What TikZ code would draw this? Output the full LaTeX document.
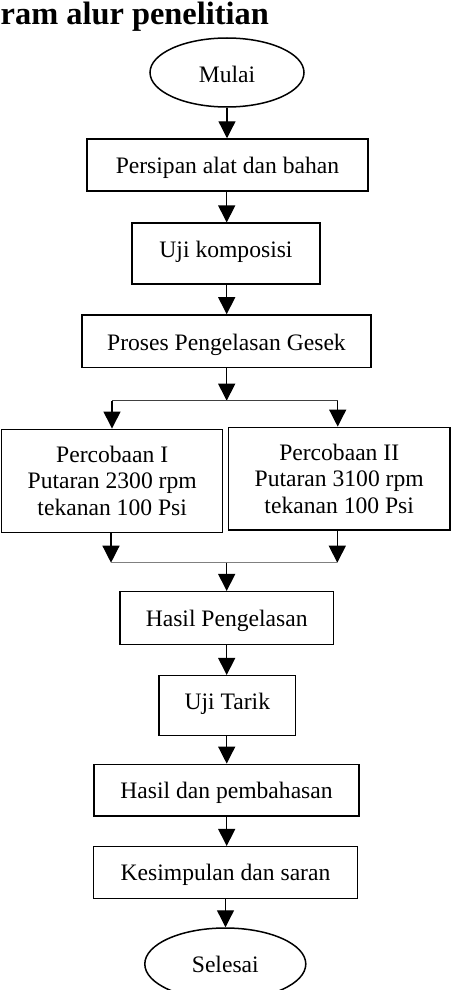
\documentclass[tikz,border=0pt]{standalone}
\usepackage{fontspec}
\setmainfont{Liberation Serif}
\usetikzlibrary{shapes.geometric,arrows.meta}
\begin{document}
\begin{tikzpicture}[x=1pt,y=-1pt,
  txt/.style={font=\fontsize{23.6}{26.7}\selectfont, inner sep=0pt},
  box/.style 2 args={txt, draw, line width=1.5pt, rectangle, minimum width=#1, minimum height=#2},
  oval/.style 2 args={txt, draw, line width=1.5pt, ellipse, minimum width=#1, minimum height=#2},
  arr/.style={line width=1.3pt, -{Triangle[length=17pt,width=17pt]}},
  joinline/.style={line width=1.3pt}
]
\useasboundingbox (0,0) rectangle (455,990);

\node[font=\fontsize{32.4}{36}\selectfont\bfseries, anchor=base west, inner sep=0pt] (title) at (0.5,24.5) {ram alur penelitian};

\node[oval={154pt}{69pt}, text height=19.8pt, text depth=0.2pt] (mulai) at (227,72.5) {Mulai};
\node[box={281pt}{52pt}, text height=18.3pt, text depth=1.7pt] (persiapan) at (227.5,165) {Persipan alat dan bahan};
\node[box={188pt}{61pt}, text height=13.6pt, text depth=6.4pt] (uji) at (226,253.7) {Uji komposisi};
\node[box={289pt}{52.7pt}, text height=18.7pt, text depth=1.3pt] (proses) at (226.5,341.3) {Proses Pengelasan Gesek};

\node[box={221pt}{103pt}, align=center, text depth=0pt] (p1) at (112.2,480.8) {Percobaan I\\Putaran 2300 rpm\\tekanan 100 Psi};
\node[box={221.7pt}{102.7pt}, align=center, text depth=0pt] (p2) at (339.2,478.7) {Percobaan II\\Putaran 3100 rpm\\tekanan 100 Psi};

\node[box={213.3pt}{52.6pt}, text height=18.7pt, text depth=1.3pt] (hasil) at (226.7,618) {Hasil Pengelasan};
\node[box={136.7pt}{60pt}, text height=13.3pt, text depth=6.7pt] (tarik) at (227.3,705.7) {Uji Tarik};
\node[box={265pt}{51.7pt}, text height=18.1pt, text depth=1.9pt] (bahas) at (226.5,790.2) {Hasil dan pembahasan};
\node[box={264.4pt}{51.6pt}, text height=17.5pt, text depth=2.5pt] (simpul) at (225.5,872.5) {Kesimpulan dan saran};
\node[oval={161pt}{72pt}, text height=18.3pt, text depth=1.7pt] (selesai) at (225.3,964) {Selesai};

% connectors
\coordinate (cx) at (226.7,0);
\coordinate (cy) at (225.5,0);
\draw[arr] (mulai.south) -- (mulai.south |- persiapan.north);
\draw[arr] (cx |- persiapan.south) -- (cx |- uji.north);
\draw[arr] (cx |- uji.south) -- (cx |- proses.north);

\coordinate (bc) at (226.7,400.7);
\coordinate (bl) at (112,400.7);
\coordinate (br) at (337.7,400.7);
\draw[arr] (bc |- proses.south) -- (bc);
\draw[joinline, black!75] (bl) -- (br);
\draw[arr] (bl) -- (bl |- p1.north);
\draw[arr] (br) -- (br |- p2.north);

\coordinate (jl) at (111,562.7);
\coordinate (jr) at (337.3,562.7);
\coordinate (jc) at (226.7,562.7);
\draw[arr] (jl |- p1.south) -- (jl);
\draw[arr] (jr |- p2.south) -- (jr);
\draw[joinline, black!50] (jl) -- (jr);
\draw[arr] (jc) -- (jc |- hasil.north);

\draw[arr] (cx |- hasil.south) -- (cx |- tarik.north);
\draw[arr] (cx |- tarik.south) -- (cx |- bahas.north);
\draw[arr] (cx |- bahas.south) -- (cx |- simpul.north);
\draw[arr] (cy |- simpul.south) -- (cy |- selesai.north);
\end{tikzpicture}
\end{document}
